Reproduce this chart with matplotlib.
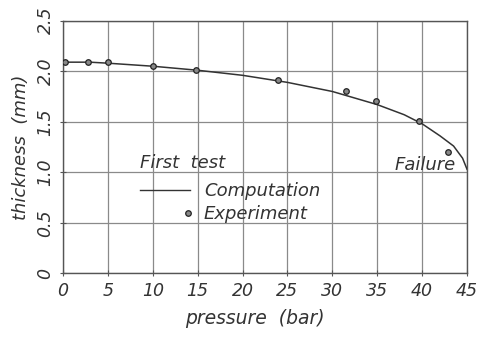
import matplotlib
matplotlib.use("Agg")
import matplotlib.pyplot as plt
from matplotlib.lines import Line2D
from matplotlib.legend_handler import HandlerLine2D

# Data
comp_pressure = [0, 3, 5, 10, 15, 20, 25, 30, 35, 38, 40, 42, 43.5, 44.5, 45]
comp_thickness = [2.09, 2.09, 2.08, 2.05, 2.01, 1.96, 1.89, 1.80, 1.67, 1.57, 1.48, 1.36, 1.26, 1.14, 1.03]
exp_pressure = [0.2, 2.8, 5.0, 10.0, 14.8, 23.9, 31.5, 34.9, 39.6, 42.9]
exp_thickness = [2.09, 2.09, 2.09, 2.05, 2.01, 1.91, 1.80, 1.71, 1.51, 1.20]
x_ticks = [0, 5, 10, 15, 20, 25, 30, 35, 40, 45]
y_ticks = [0, 0.5, 1.0, 1.5, 2.0, 2.5]
y_ticklabels = ["0", "0.5", "1.0", "1.5", "2.0", "2.5"]


class RightMarkerHandler(HandlerLine2D):
    def create_artists(self, legend, orig_handle, xdescent, ydescent,
                       width, height, fontsize, trans):
        artists = super().create_artists(legend, orig_handle, xdescent,
                                         ydescent, width, height, fontsize,
                                         trans)
        for a in artists:
            a.set_markevery([1])
        return artists


ink = "#333333"
fig = plt.figure(figsize=(4.8, 3.4), dpi=100)
ax = fig.add_axes([0.131, 0.196, 0.842, 0.743])

ax.plot(comp_pressure, comp_thickness, color=ink, lw=1.1, zorder=3)
ax.plot(exp_pressure, exp_thickness, ls="none", marker="o", ms=4,
        mfc="#888888", mec="#222222", mew=0.9, zorder=4)

ax.set_xlim(0, 45)
ax.set_ylim(0, 2.5)
ax.set_xticks(x_ticks)
ax.set_yticks(y_ticks)
ax.set_yticklabels(y_ticklabels, rotation=90, va="center")
ax.grid(True, color="#8a8a8a", lw=0.9)
for s in ax.spines.values():
    s.set_color("#555555")
    s.set_linewidth(1.0)
ax.tick_params(direction="inout", length=5, color="#555555", labelsize=12.5,
               labelcolor=ink)
for lab in ax.get_xticklabels() + ax.get_yticklabels():
    lab.set_fontstyle("italic")

ax.set_xlabel("pressure  (bar)", fontsize=13.5, fontstyle="italic", color=ink, labelpad=7)
ax.xaxis.label.set_x(0.475)
ax.set_ylabel("thickness  (mm)", fontsize=13, fontstyle="italic", color=ink, labelpad=5)

ax.text(8.6, 1.04, "First  test", fontsize=13, fontstyle="italic", color=ink,
        ha="left", va="baseline")
ax.text(43.7, 1.02, "Failure", fontsize=13, fontstyle="italic", color=ink,
        ha="right", va="baseline")

line_handle = Line2D([], [], color=ink, lw=1.0)
exp_handle = Line2D([], [], ls="none", marker="o", ms=4, mfc="#888888",
                    mec="#222222", mew=0.9)
leg = ax.legend([line_handle, exp_handle], ["Computation", "Experiment"],
                loc="upper left", bbox_to_anchor=(0.19, 0.36), frameon=False,
                fontsize=13, handlelength=2.8, handletextpad=0.75,
                labelspacing=0.27, borderpad=0.0, borderaxespad=0.0,
                handler_map={exp_handle: RightMarkerHandler(numpoints=2, marker_pad=0.15)})
for t in leg.get_texts():
    t.set_fontstyle("italic")
    t.set_color(ink)

fig.savefig("out.png", dpi=100)
